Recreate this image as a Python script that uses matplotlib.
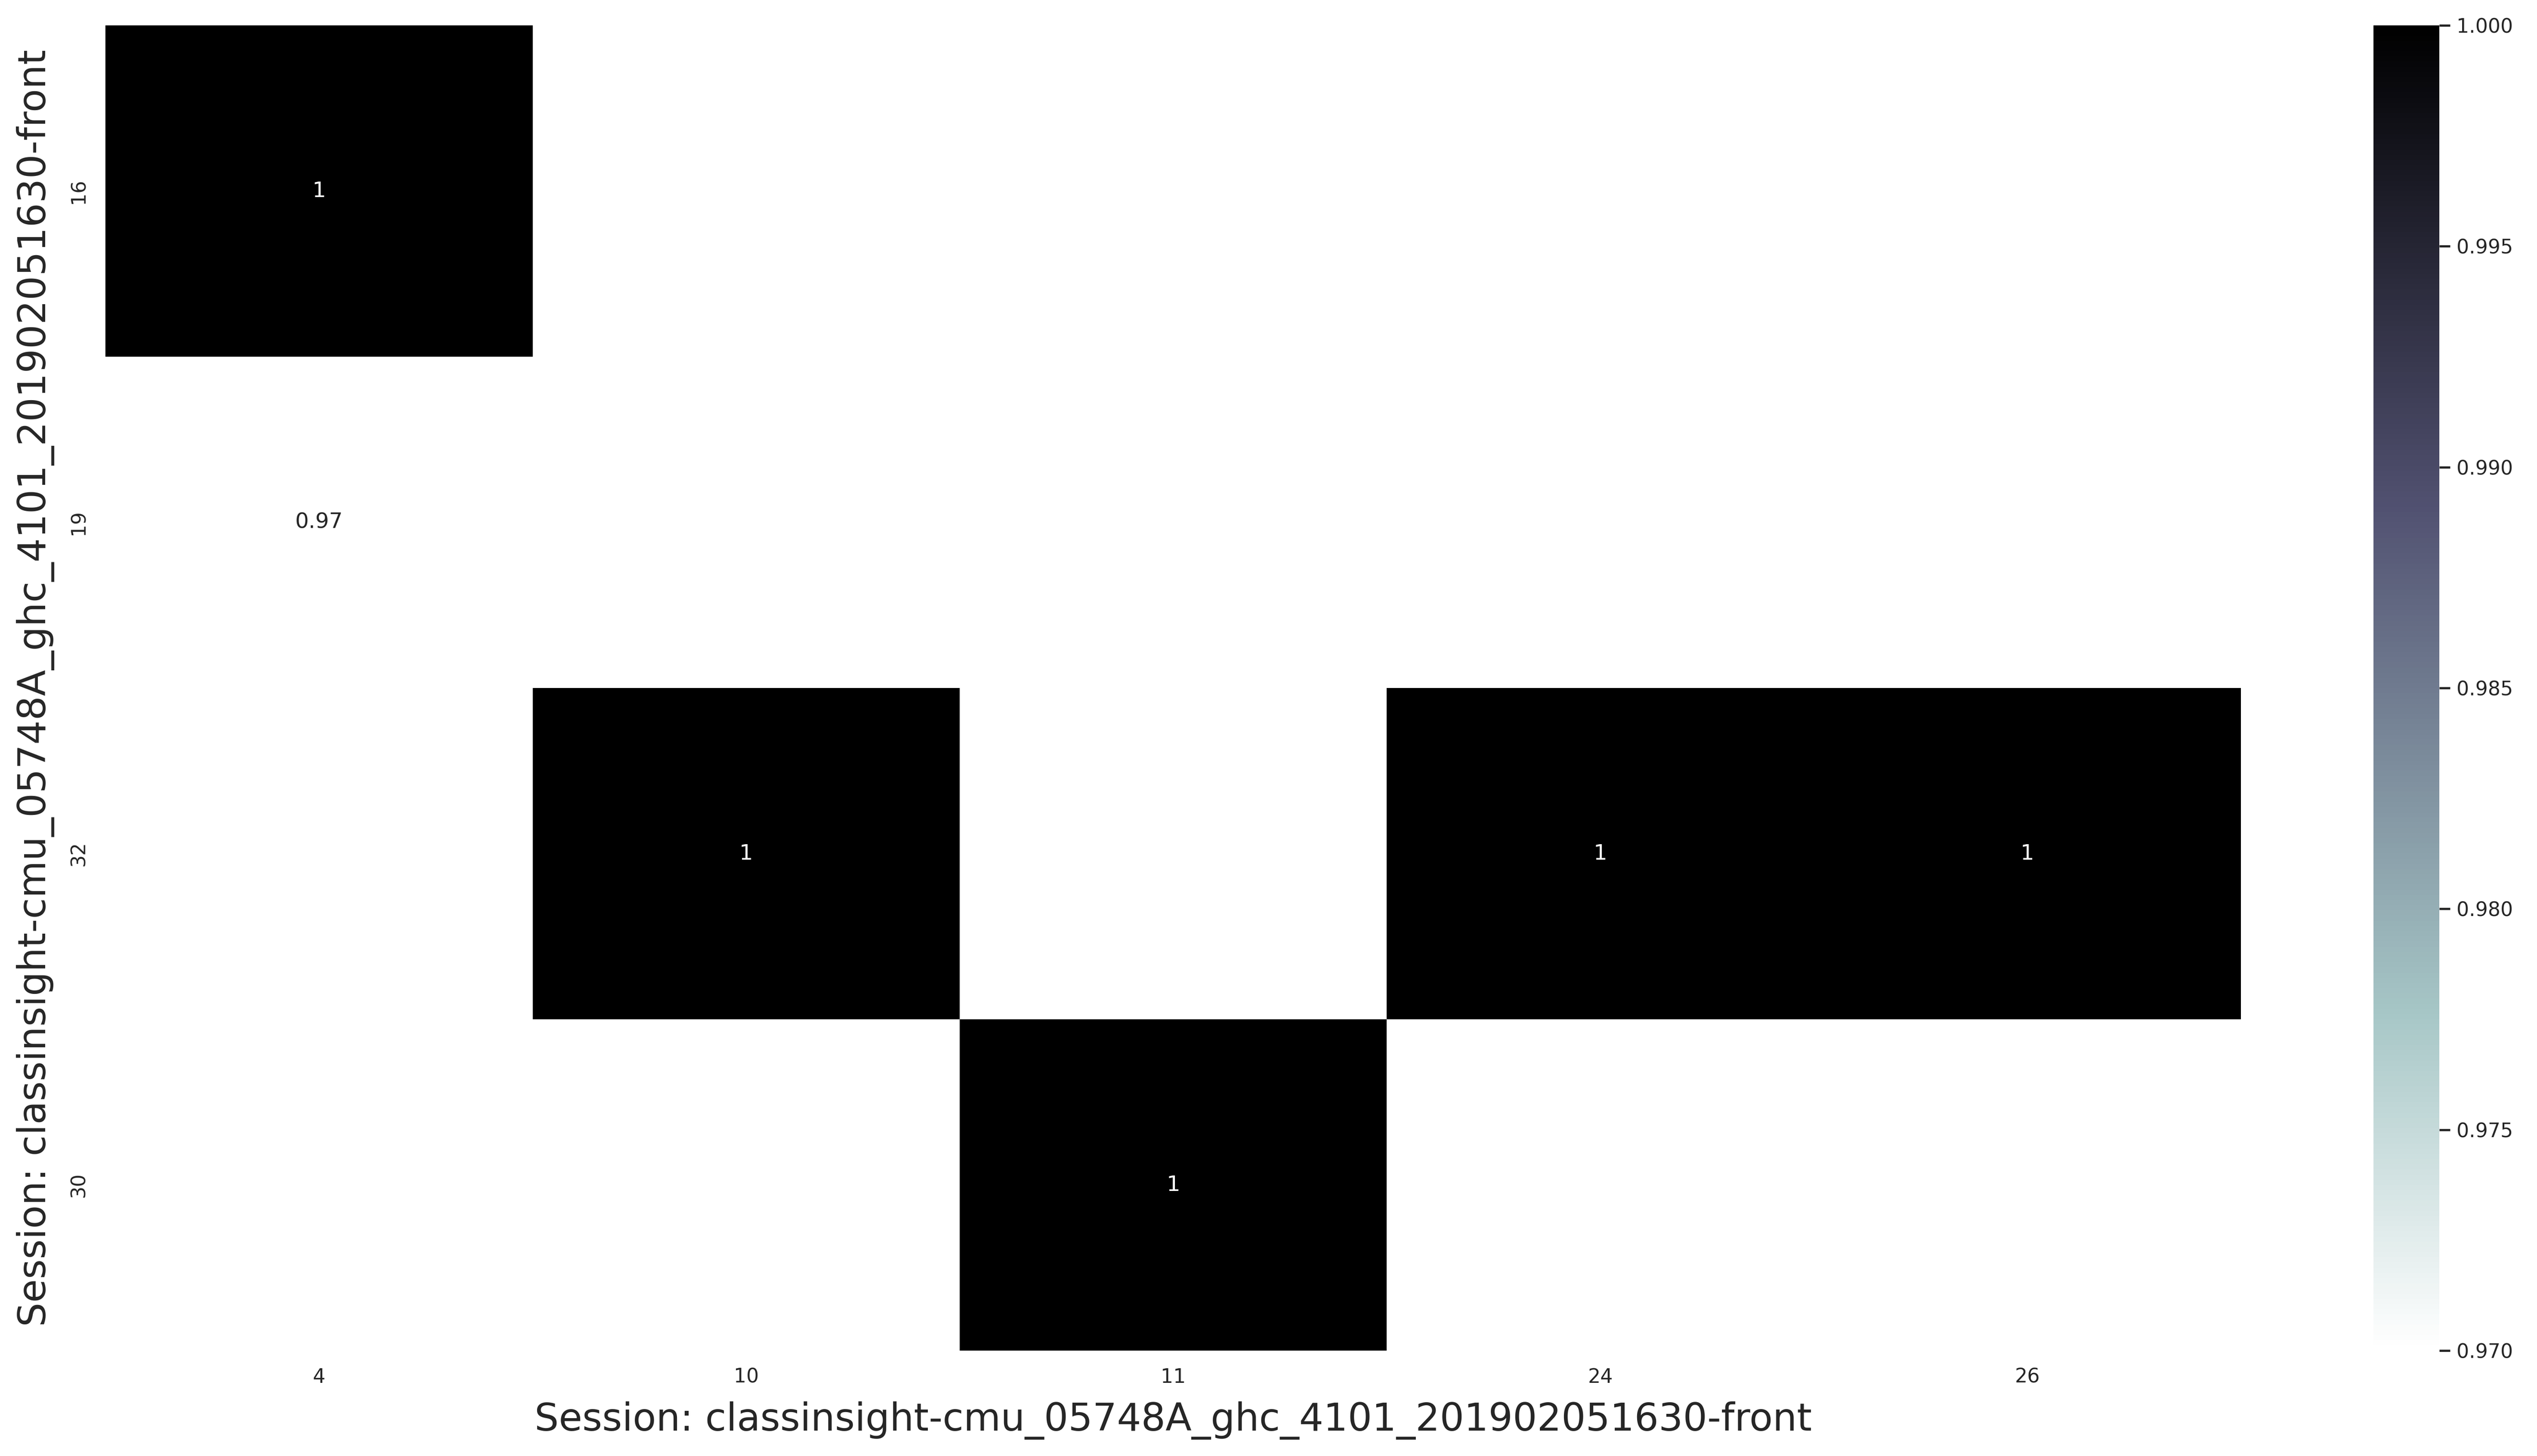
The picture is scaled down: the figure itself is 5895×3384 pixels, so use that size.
import numpy as np
import pandas as pd
import matplotlib
matplotlib.use("Agg")
import matplotlib.pyplot as plt
import seaborn as sns

SESSION = "classinsight-cmu_05748A_ghc_4101_201902051630-front"

# row / column track ids
row_ids = [16, 19, 32, 30]
col_ids = [4, 10, 11, 24, 26]

# similarity values (NaN = no match)
row_16 = [1.0, np.nan, np.nan, np.nan, np.nan]
row_19 = [0.97, np.nan, np.nan, np.nan, np.nan]
row_32 = [np.nan, 1.0, np.nan, 1.0, 1.0]
row_30 = [np.nan, np.nan, 1.0, np.nan, np.nan]


def plot_matrix():
    df = pd.DataFrame([row_16, row_19, row_32, row_30], index=row_ids, columns=col_ids)

    sns.set_theme(style="white")
    fig = plt.figure(figsize=(19.65, 11.28), dpi=300)
    ax = fig.add_axes([0.0416, 0.0724, 0.8417, 0.9102])
    cax = fig.add_axes([0.9355, 0.0724, 0.026, 0.9102])

    sns.heatmap(df, ax=ax, cbar_ax=cax, cmap="bone_r", annot=True,
                vmin=0.97, vmax=1.0)

    ax.set_yticklabels(row_ids, rotation=90, va="center")
    ax.set_xticklabels(col_ids, rotation=0)
    ax.set_xlabel("Session: " + SESSION, fontsize=21.3, labelpad=8)
    ax.set_ylabel("Session: " + SESSION, fontsize=21.3, labelpad=8)

    cax.yaxis.set_major_formatter(matplotlib.ticker.FormatStrFormatter("%.3f"))

    fig.savefig("out.png", dpi=300)


if __name__ == "__main__":
    plot_matrix()
